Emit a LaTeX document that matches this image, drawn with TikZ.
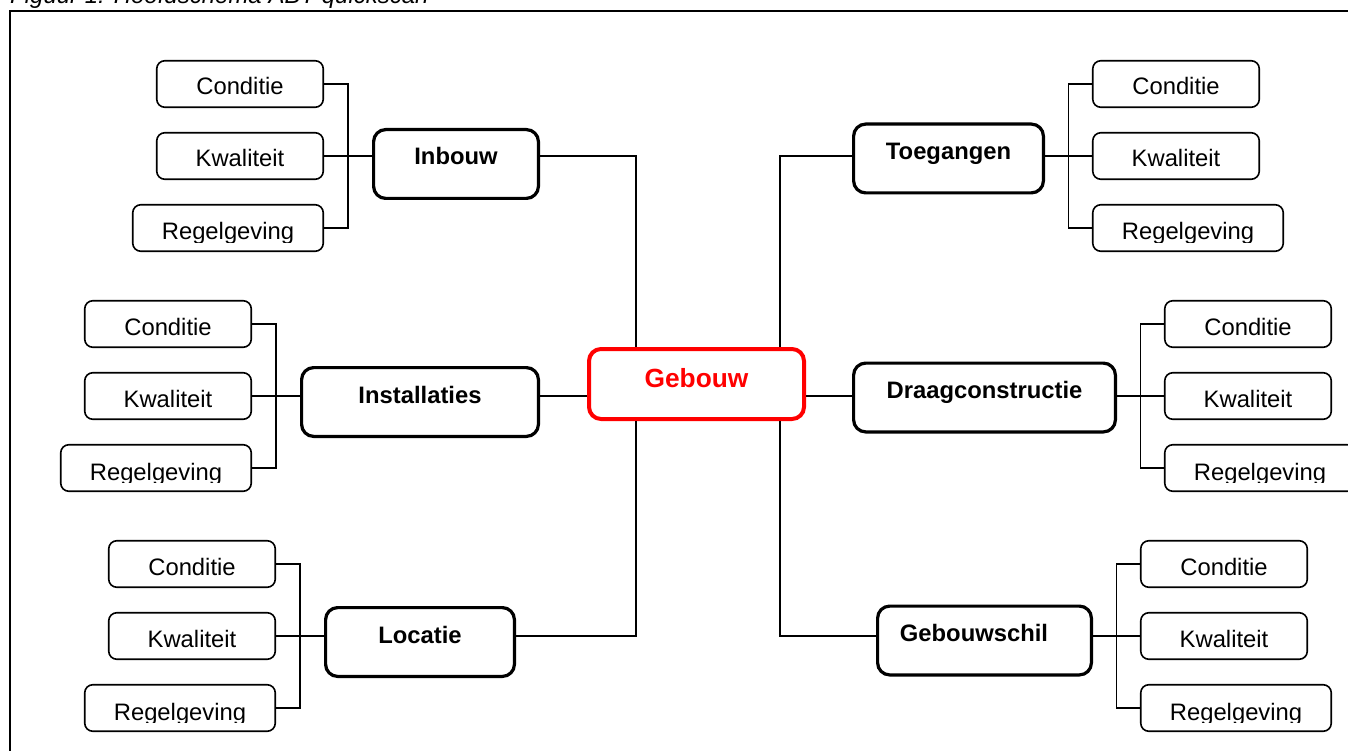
\documentclass[tikz,border=0pt]{standalone}
\usepackage{fontspec}
\setmainfont{Liberation Sans}
\usetikzlibrary{calc}

\tikzset{
  sbox/.style={draw, fill=white, line width=1.6pt, rounded corners=8pt,
    minimum width=166.5pt, minimum height=46.5pt, inner sep=0pt},
  mbox/.style={draw, fill=white, line width=3.2pt, rounded corners=12pt,
    minimum height=68.8pt, inner sep=0pt},
  gbox/.style={draw=red, fill=white, line width=4pt, rounded corners=12pt,
    minimum width=215pt, minimum height=70pt, inner sep=0pt},
  stext/.style={anchor=base, inner sep=0pt, font=\fontsize{23.8}{28}\selectfont},
  mtext/.style={anchor=base, inner sep=0pt, font=\bfseries\fontsize{23.8}{28}\selectfont},
  gtext/.style={anchor=base, inner sep=0pt, text=red, font=\bfseries\fontsize{26.3}{30}\selectfont},
  conn/.style={line width=1.6pt},
  frame/.style={line width=2pt},
}

% small aspect box: name, x, y, text
\newcommand\leafbox[4]{%
  \node[sbox] (#1) at (#2,#3) {};
  \node[stext] (#1t) at ([yshift=-11pt]#1.center) {#4};}
% wider "Regelgeving" box, text cut off just below the baseline
\newcommand\rulebox[3]{%
  \node[sbox, minimum width=190.5pt] (#1) at (#2,#3) {};
  \begin{scope}
    \clip ([xshift=2pt]#1.north west) rectangle ([xshift=-2pt,yshift=10pt]#1.south east);
    \node[stext] (#1t) at ([yshift=-12pt]#1.center) {Regelgeving};
  \end{scope}}
% main part box: name, x, y, width, text
\newcommand\mainbox[5]{%
  \node[mbox, minimum width=#4] (#1) at (#2,#3) {};
  \node[mtext] (#1t) at ([yshift=-1pt]#1.center) {#5};}

\begin{document}
\begin{tikzpicture}[x=1pt, y=-1pt]
\clip (0,0) rectangle (1348,751);

% caption and frame
\node[anchor=base west, inner sep=0pt, font=\itshape\fontsize{24}{28}\selectfont]
  (cap) at (10,3.5) {Figuur 1: Hoofdschema ABT quickscan};
\draw[frame] (10,11) rectangle (1360,765);

% centre
\node[gbox] (g) at (696.5,384) {};
\node[gtext] (gt) at ([yshift=-3pt]g.center) {Gebouw};
\coordinate (gtl) at ([xshift=49pt]g.north west);
\coordinate (gbl) at ([xshift=49pt]g.south west);
\coordinate (gtr) at ([xshift=-26pt]g.north east);
\coordinate (gbr) at ([xshift=-26pt]g.south east);

% ---- left: Inbouw
\mainbox{ib}{456}{164}{164.8pt}{Inbouw}
\leafbox{ic}{240}{84}{Conditie}
\leafbox{ik}{240}{156}{Kwaliteit}
\rulebox{ir}{228}{228}

% ---- left: Installaties
\mainbox{in}{420}{402}{236.8pt}{Installaties}
\leafbox{nc}{168}{324}{Conditie}
\leafbox{nk}{168}{396}{Kwaliteit}
\rulebox{nr}{156}{468}

% ---- left: Locatie
\mainbox{lo}{420}{642}{188.8pt}{Locatie}
\leafbox{lc}{192}{564}{Conditie}
\leafbox{lk}{192}{636}{Kwaliteit}
\rulebox{lr}{180}{708}

% ---- right: Toegangen
\mainbox{to}{948.5}{158.5}{189.8pt}{Toegangen}
\leafbox{tc}{1176}{84}{Conditie}
\leafbox{tk}{1176}{156}{Kwaliteit}
\rulebox{tr}{1188}{228}

% ---- right: Draagconstructie
\mainbox{dr}{984.5}{397.5}{261.8pt}{Draagconstructie}
\leafbox{dc}{1248}{324}{Conditie}
\leafbox{dk}{1248}{396}{Kwaliteit}
\rulebox{dq}{1260}{468}

% ---- right: Gebouwschil
\node[mbox, minimum width=213.8pt] (gs) at (984.5,640.5) {};
\node[mtext] (gst) at ([xshift=-10.5pt,yshift=-1pt]gs.center) {Gebouwschil};
\leafbox{sc}{1224}{564}{Conditie}
\leafbox{sk}{1224}{636}{Kwaliteit}
\rulebox{sr}{1236}{708}

% ---- brackets joining the aspects to their part
\coordinate (ibx) at ($(ik.east)!0.5!(ib.west)$);
\draw[conn] (ic.east) -| (ibx) |- (ir.east);
\draw[conn] (ik.east) -- (ik.east -| ib.west);

\coordinate (inx) at ($(nk.east)!0.5!(in.west)$);
\draw[conn] (nc.east) -| (inx) |- (nr.east);
\draw[conn] (nk.east) -- (nk.east -| in.west);

\coordinate (lox) at ($(lk.east)!0.5!(lo.west)$);
\draw[conn] (lc.east) -| (lox) |- (lr.east);
\draw[conn] (lk.east) -- (lk.east -| lo.west);

\coordinate (tox) at ($(to.east)!0.5!(tk.west)$);
\draw[conn] (tc.west) -| (tox) |- (tr.west);
\draw[conn] (tk.west -| to.east) -- (tk.west);

\coordinate (drx) at ($(dr.east)!0.5!(dk.west)$);
\draw[conn] (dc.west) -| (drx) |- (dq.west);
\draw[conn] (dk.west -| dr.east) -- (dk.west);

\coordinate (gsx) at ($(gs.east)!0.5!(sk.west)$);
\draw[conn] (sc.west) -| (gsx) |- (sr.west);
\draw[conn] (sk.west -| gs.east) -- (sk.west);

% ---- parts to the centre
\draw[conn] (ik.east -| ib.east) -| (gtl);
\draw[conn] (nk.east -| in.east) -- (nk.east -| g.west);
\draw[conn] (lk.east -| lo.east) -| (gbl);
\draw[conn] (tk.west -| to.west) -| (gtr);
\draw[conn] (dk.west -| dr.west) -- (dk.west -| g.east);
\draw[conn] (sk.west -| gs.west) -| (gbr);
\end{tikzpicture}
\end{document}
